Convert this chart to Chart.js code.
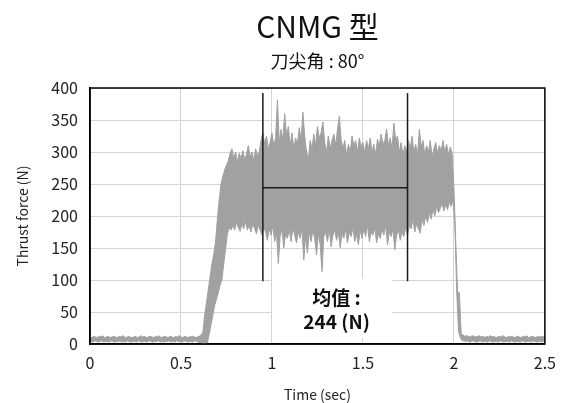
<!DOCTYPE html>
<html lang="zh">
<head>
<meta charset="UTF-8" />
<title>CNMG 型 | Thrust force</title>
<script src="https://cdn.jsdelivr.net/npm/chart.js"></script>
<style>
  html, body { margin: 0; padding: 0; background: #fff; }
  #wrap { width: 565px; height: 403px; }
</style>
</head>
<body>
<div id="wrap"><canvas id="thrustChart" width="565" height="403"></canvas></div>
<script>
  // sample clock of the force record (sec)
  const SAMPLE_DT = 0.01;

  // force envelope, one hi / lo pair per sample (N)
  // 0.00 - 0.61 s : idle
  const idleHi = [
    11,10,12,11,10,12,11,13,10,11,
    12,10,11,12,11,10,12,11,13,11,
    10,12,11,10,11,12,10,11,13,11,
    12,10,11,12,11,10,12,11,13,10,
    11,12,11,10,12,11,10,12,11,13,
    11,10,12,11,10,12,11,12,10,11,
    12,14
  ];
  const idleLo = [
    4,3,5,4,3,4,5,3,4,4,
    3,5,4,3,4,4,5,3,4,3,
    5,4,3,4,4,3,5,4,3,4,
    4,3,5,4,3,4,4,5,3,4,
    3,4,4,5,3,4,3,5,4,4,
    3,4,5,3,4,4,3,5,4,3,
    2,1
  ];
  // 0.62 - 0.77 s : tool entry
  const entryHi = [18,45,65,85,105,125,140,160,195,225,250,262,272,280,286,298];
  const entryLo = [0,0,2,15,30,45,60,70,80,92,100,125,148,172,182,178];
  // 0.78 - 1.99 s : cutting
  const cutHi = [
    305,290,300,285,298,290,302,288,296,310,
    292,300,286,305,295,300,318,330,312,325,
    305,315,330,310,322,381,315,335,318,360,
    325,340,310,330,305,322,312,338,318,362,
    325,300,288,318,305,328,310,340,322,330,
    347,315,300,325,305,318,328,310,335,356,
    320,305,318,295,312,300,325,310,318,300,
    322,308,315,298,318,305,322,300,312,296,
    320,310,328,312,318,336,310,322,305,345,
    318,325,300,315,295,310,300,318,305,325,
    300,312,295,336,308,318,296,310,300,318,
    292,305,315,298,310,302,318,300,312,296,
    308,298
  ];
  const cutLo = [
    185,178,190,182,176,188,180,192,178,185,
    175,188,180,172,186,178,170,182,175,162,
    180,170,185,160,175,126,168,180,150,172,
    165,178,160,182,170,158,175,165,180,131,
    168,142,175,160,178,165,139,172,155,113,
    168,175,160,180,152,170,178,162,175,150,
    172,165,180,158,175,168,182,160,172,155,
    178,165,180,168,185,160,175,170,182,158,
    172,165,180,170,185,155,175,168,180,147,
    170,178,162,175,168,182,170,185,180,195,
    175,188,180,173,195,185,200,190,205,195,
    210,200,215,205,212,220,208,218,210,222,
    215,225
  ];
  // 2.00 - 2.04 s : exit
  const exitHi = [245,160,82,80,16];
  const exitLo = [190,85,20,10,5];
  // 2.05 - 2.50 s : idle
  const tailHi = [
    14,12,13,12,11,13,12,11,12,13,
    11,12,10,12,11,13,11,12,10,11,
    12,11,13,11,10,12,11,12,10,11,
    12,11,10,12,11,13,10,11,12,11,
    10,12,11,12,11,12
  ];
  const tailLo = [
    5,4,5,3,4,5,4,3,4,5,
    3,4,4,3,5,4,3,4,4,3,
    5,4,3,4,4,3,5,4,3,4,
    4,3,5,4,3,4,4,3,5,4,
    3,4,4,3,5,4
  ];

  // averaging window and result
  const windowStart = 0.95;
  const windowEnd = 1.745;
  const windowLow = 98;
  const windowHigh = 392;
  const meanForce = 244;

  const xTicks = { min: 0, max: 2.5, step: 0.5 };
  const yTicks = { min: 0, max: 400, step: 50 };

  const forceHi = [].concat(idleHi, entryHi, cutHi, exitHi, tailHi);
  const forceLo = [].concat(idleLo, entryLo, cutLo, exitLo, tailLo);

  // hi sample on the clock, lo sample half a step later
  const hiPoints = forceHi.map((v, i) => ({ x: i * SAMPLE_DT, y: v }));
  const loPoints = forceLo.map((v, i) => ({ x: i * SAMPLE_DT + SAMPLE_DT / 2, y: v }));

  const FONT = '"Noto Sans CJK JP", "Noto Sans", sans-serif';
  const TRACE = '#a0a1a0';

  const decor = {
    id: 'decor',
    beforeDatasetsDraw(chart) {
      const { ctx, scales: { x, y } } = chart;
      // white label box sits over the grid
      const x0 = x.getPixelForValue(1.0), x1 = x.getPixelForValue(1.662);
      const y0 = y.getPixelForValue(102), y1 = y.getPixelForValue(9);
      ctx.save();
      ctx.fillStyle = '#fff';
      ctx.fillRect(x0, y0, x1 - x0, y1 - y0);
      ctx.restore();
    },
    afterDatasetsDraw(chart) {
      const { ctx, chartArea: a, scales: { x, y } } = chart;
      ctx.save();
      ctx.strokeStyle = '#000';
      ctx.lineWidth = 1.5;
      ctx.strokeRect(a.left, a.top, a.right - a.left, a.bottom - a.top);

      const cx = x.getPixelForValue(1.355);
      ctx.fillStyle = '#111';
      ctx.textAlign = 'center';
      ctx.textBaseline = 'middle';
      ctx.font = '600 19px ' + FONT;
      ctx.fillText('均值 :', cx, y.getPixelForValue(72));
      ctx.fillText(meanForce + ' (N)', cx, y.getPixelForValue(34));
      ctx.restore();
    },
    afterDraw(chart) {
      const { ctx, chartArea: a } = chart;
      const cx = (a.left + a.right) / 2;
      ctx.save();
      ctx.fillStyle = '#111';
      ctx.textAlign = 'center';
      ctx.textBaseline = 'middle';
      ctx.font = '30px ' + FONT;
      ctx.fillText('CNMG 型', cx, 27);
      ctx.font = '18px ' + FONT;
      ctx.fillText('刀尖角 : 80°', cx, 61);
      ctx.restore();
    }
  };

  const markLine = (pts) => ({
    data: pts,
    borderColor: '#1a1a1a',
    borderWidth: 1.5,
    pointRadius: 0,
    fill: false,
    order: 0
  });

  new Chart(document.getElementById('thrustChart'), {
    type: 'line',
    data: {
      datasets: [
        {
          data: hiPoints,
          borderColor: TRACE,
          borderWidth: 1,
          pointRadius: 0,
          fill: false,
          tension: 0,
          order: 1
        },
        {
          data: loPoints,
          borderColor: TRACE,
          backgroundColor: TRACE,
          borderWidth: 1,
          pointRadius: 0,
          fill: '-1',
          tension: 0,
          order: 1
        },
        markLine([{ x: windowStart, y: windowLow }, { x: windowStart, y: windowHigh }]),
        markLine([{ x: windowEnd, y: windowLow }, { x: windowEnd, y: windowHigh }]),
        markLine([{ x: windowStart, y: meanForce }, { x: windowEnd, y: meanForce }])
      ]
    },
    options: {
      responsive: false,
      animation: false,
      devicePixelRatio: 1,
      layout: { padding: { top: 88, right: 20, left: 0, bottom: 0 } },
      plugins: { legend: { display: false }, tooltip: { enabled: false } },
      scales: {
        x: {
          type: 'linear',
          min: xTicks.min,
          max: xTicks.max,
          afterFit: (s) => { s.height = 59; },
          ticks: {
            stepSize: xTicks.step,
            callback: (v) => String(+v.toFixed(2)),
            font: { family: FONT, size: 16 }, color: '#222', padding: 9, maxRotation: 0
          },
          grid: { color: '#d4d4d4', drawTicks: false },
          border: { color: '#000', width: 1.5 },
          title: { display: true, text: 'Time (sec)', font: { family: FONT, size: 14 }, color: '#222', padding: { top: 3, bottom: 0 } }
        },
        y: {
          min: yTicks.min,
          max: yTicks.max,
          afterFit: (s) => { s.width = 90; },
          ticks: { stepSize: yTicks.step, font: { family: FONT, size: 16 }, color: '#222', padding: 12 },
          grid: { color: '#d4d4d4', drawTicks: false },
          border: { color: '#000', width: 1.5 },
          title: { display: true, text: 'Thrust force (N)', font: { family: FONT, size: 14 }, color: '#222', padding: { top: 14, bottom: 0 } }
        }
      }
    },
    plugins: [decor]
  });
</script>
</body>
</html>
